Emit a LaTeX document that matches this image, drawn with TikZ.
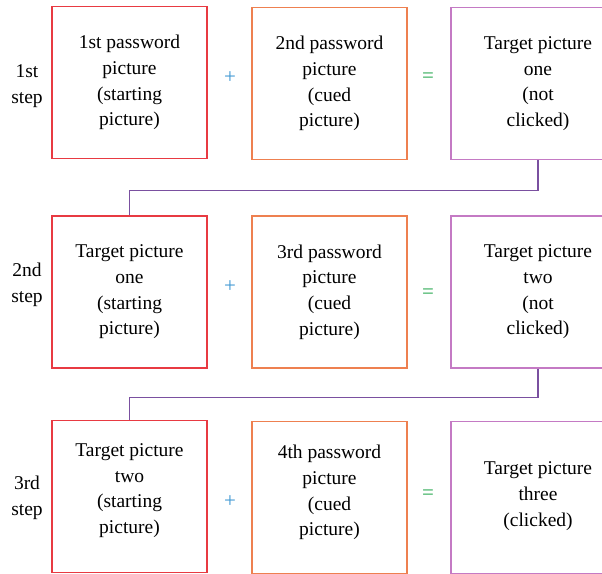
\documentclass[tikz,border=0pt]{standalone}
\usepackage{fontspec}
\setmainfont{Liberation Serif}
\usetikzlibrary{calc}

\definecolor{boxred}{RGB}{232,58,66}
\definecolor{boxorange}{RGB}{238,128,80}
\definecolor{boxpink}{RGB}{196,122,196}
\definecolor{linkpurple}{RGB}{122,80,160}
\definecolor{plusblue}{RGB}{60,150,210}
\definecolor{eqgreen}{RGB}{40,168,80}

\tikzset{
  pic box/.style={draw, line width=1.3pt, minimum height=152pt, align=center,
    inner sep=0pt, font=\fontsize{19.5}{25.7}\selectfont},
  startbox/.style={pic box, boxred, text=black, minimum width=155pt},
  cuebox/.style={pic box, boxorange, text=black, minimum width=155pt},
  targetbox/.style={pic box, boxpink, text=black, minimum width=174pt},
  steplabel/.style={align=center, font=\fontsize{19.5}{26.5}\selectfont},
  opplus/.style={text=plusblue, font=\fontsize{21}{21}\selectfont},
  opeq/.style={text=eqgreen, font=\fontsize{21}{21}\selectfont},
  link/.style={draw=linkpurple, line width=1.3pt}
}

\begin{document}
\begin{tikzpicture}[x=1pt,y=-1pt]
  \useasboundingbox (0,0) rectangle (602,573);

  % step 1
  \node (s1) at (27, 86) [steplabel] {1st\\step};
  \node (r1) at (129.5, 82.5) [startbox] {1st password\\picture\\(starting\\picture)};
  \node (c1) at (329.5, 83.5) [cuebox] {2nd password\\picture\\(cued\\picture)};
  \node (t1) at (538, 83.5) [targetbox] {Target picture\\one\\(not\\clicked)};
  \node (p1) at (230, 78) [opplus] {+};
  \node (e1) at (428, 78) [opeq] {=};

  % step 2
  \node (s2) at (27, 285) [steplabel] {2nd\\step};
  \node (r2) at (129.5, 292) [startbox] {Target picture\\one\\(starting\\picture)};
  \node (c2) at (329.5, 292) [cuebox] {3rd password\\picture\\(cued\\picture)};
  \node (t2) at (538, 292) [targetbox] {Target picture\\two\\(not\\clicked)};
  \node (p2) at (230, 287) [opplus] {+};
  \node (e2) at (428, 294) [opeq] {=};

  % step 3 (text sits a little high in its box)
  \node (s3) at (27, 498) [steplabel] {3rd\\step};
  \node (r3) at (129.5, 496.5) [startbox, text depth=16pt] {Target picture\\two\\(starting\\picture)};
  \node (c3) at (329.5, 497.5) [cuebox, text depth=14pt] {4th password\\picture\\(cued\\picture)};
  \node (t3) at (538, 497.5) [targetbox, text depth=7pt] {Target picture\\three\\(clicked)};
  \node (p3) at (230, 502) [opplus] {+};
  \node (e3) at (428, 495) [opeq] {=};

  \draw [link] (t1.south) -- ++(0, 30) -| (r2.north);
  \draw [link] (t2.south) -- ++(0, 28.5) -| (r3.north);
\end{tikzpicture}
\end{document}
